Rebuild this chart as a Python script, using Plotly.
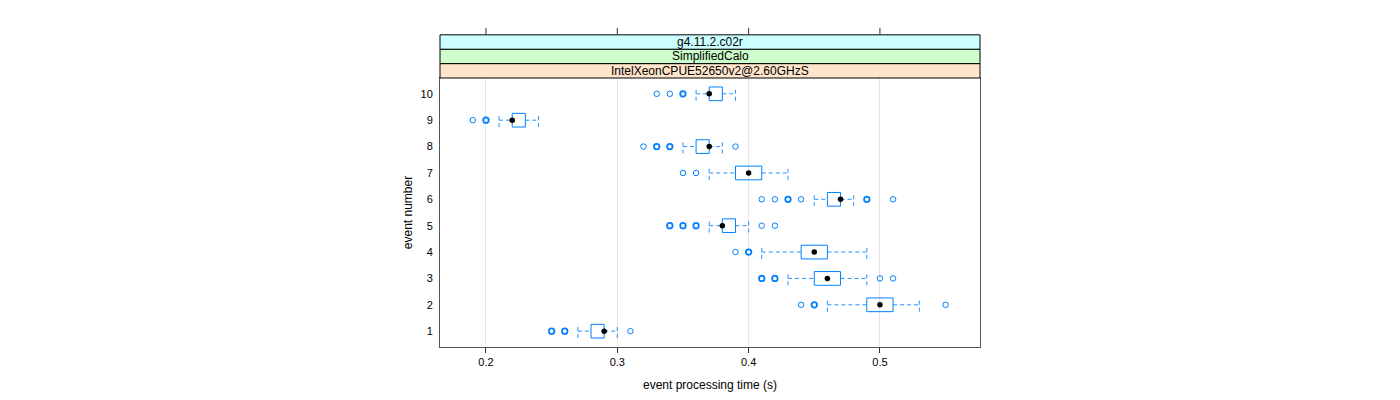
import plotly.graph_objects as go

events = [1, 2, 3, 4, 5, 6, 7, 8, 9, 10]
q1 = [0.28, 0.49, 0.45, 0.44, 0.38, 0.46, 0.39, 0.36, 0.22, 0.37]
med = [0.29, 0.50, 0.46, 0.45, 0.38, 0.47, 0.40, 0.37, 0.22, 0.37]
q3 = [0.29, 0.51, 0.47, 0.46, 0.39, 0.47, 0.41, 0.37, 0.23, 0.38]
lo = [0.27, 0.46, 0.43, 0.41, 0.37, 0.45, 0.37, 0.35, 0.21, 0.36]
hi = [0.30, 0.53, 0.49, 0.49, 0.40, 0.48, 0.43, 0.38, 0.24, 0.39]
outliers = {
    1: [0.25, 0.26, 0.31],
    2: [0.44, 0.45, 0.55],
    3: [0.41, 0.42, 0.50, 0.51],
    4: [0.39, 0.40],
    5: [0.34, 0.35, 0.36, 0.41, 0.42],
    6: [0.41, 0.42, 0.43, 0.44, 0.49, 0.51],
    7: [0.35, 0.36],
    8: [0.32, 0.33, 0.34, 0.39],
    9: [0.19, 0.20],
    10: [0.33, 0.34, 0.35],
}
outlier_counts = {
    1: [2, 2, 1],
    2: [1, 2, 1],
    3: [2, 2, 1, 1],
    4: [1, 2],
    5: [2, 2, 2, 1, 1],
    6: [1, 1, 2, 1, 2, 1],
    7: [1, 1],
    8: [1, 2, 2, 1],
    9: [1, 2],
    10: [1, 1, 2],
}
x_ticks = [0.2, 0.3, 0.4, 0.5]
strip_labels = ["g4.11.2.c02r", "SimplifiedCalo", "IntelXeonCPUE52650v2@2.60GHzS"]
strip_colors = ["#CCFFFF", "#CCFFCC", "#FFE5CC"]

BLUE = "#0080ff"
HW = 0.26

fig = go.Figure()

# whiskers (dashed)
wx, wy = [], []
cx, cy = [], []
for e, a, b, l, h in zip(events, q1, q3, lo, hi):
    wx += [l, a, None, b, h, None]
    wy += [e, e, None, e, e, None]
    cx += [l, l, None, h, h, None]
    cy += [e - HW, e + HW, None, e - HW, e + HW, None]
fig.add_trace(go.Scatter(x=wx, y=wy, mode="lines", line=dict(color=BLUE, width=1, dash="4px,3px"),
                         opacity=0.85, hoverinfo="skip", showlegend=False))
fig.add_trace(go.Scatter(x=cx, y=cy, mode="lines", line=dict(color=BLUE, width=1, dash="4px,3px"),
                         opacity=0.85, hoverinfo="skip", showlegend=False))

# boxes
bx, by = [], []
for e, a, b in zip(events, q1, q3):
    bx += [a, b, b, a, a, None]
    by += [e - HW, e - HW, e + HW, e + HW, e - HW, None]
fig.add_trace(go.Scatter(x=bx, y=by, mode="lines", line=dict(color=BLUE, width=1),
                         hoverinfo="skip", showlegend=False))

# outliers
for w in (1, 2):
    ox, oy = [], []
    for e in events:
        for v, c in zip(outliers[e], outlier_counts[e]):
            if (c > 1) == (w == 2):
                ox.append(v)
                oy.append(e)
    fig.add_trace(go.Scatter(x=ox, y=oy, mode="markers",
                             marker=dict(symbol="circle-open", size=5.5, color=BLUE,
                                         line=dict(width=1 if w == 1 else 1.8)),
                             showlegend=False))

# medians
fig.add_trace(go.Scatter(x=med, y=events, mode="markers",
                         marker=dict(symbol="circle", size=5.5, color="black"),
                         showlegend=False))

# strips
sh = 0.0535
shapes = []
annotations = []
for i, (lab, col) in enumerate(zip(reversed(strip_labels), reversed(strip_colors))):
    y0 = 1 + i * sh
    shapes.append(dict(type="rect", xref="paper", yref="paper", x0=0, x1=1, y0=y0, y1=y0 + sh,
                       fillcolor=col, line=dict(color="black", width=1), layer="above"))
    annotations.append(dict(xref="paper", yref="paper", x=0.5, y=y0 + sh / 2, text=lab,
                            showarrow=False, font=dict(size=12, color="black"),
                            xanchor="center", yanchor="middle"))
# top ticks
top = 1 + 3 * sh
for t in x_ticks:
    shapes.append(dict(type="line", xref="x", yref="paper", x0=t, x1=t, y0=top, y1=top + 0.026,
                       line=dict(color="#333333", width=1)))

# page body has an 8px margin: compensate
fig.update_layout(
    width=1384, height=384,
    margin=dict(l=432, r=412, t=70, b=45, autoexpand=False),
    paper_bgcolor="white", plot_bgcolor="white",
    font=dict(family="Liberation Sans, Arial, sans-serif", size=11, color="black"),
    shapes=shapes, annotations=annotations,
    xaxis=dict(range=[0.165, 0.5762], tickvals=x_ticks, ticktext=[str(t) for t in x_ticks],
               showgrid=True, gridcolor="#e6e6e6", gridwidth=1, zeroline=False,
               showline=True, linecolor="#555555", linewidth=1, mirror=True,
               ticks="outside", ticklen=5, tickcolor="#333333", automargin=False,
               title=dict(text="event processing time (s)", font=dict(size=12), standoff=13)),
    yaxis=dict(range=[0.4, 10.6], tickvals=events, ticktext=[str(e) for e in events],
               showgrid=False, zeroline=False,
               showline=True, linecolor="#555555", linewidth=1, mirror=True,
               ticks="", ticklen=0, ticklabelstandoff=4, automargin=False,
               title=dict(text="event number", font=dict(size=12), standoff=5)),
)

fig.write_html("out.html")
